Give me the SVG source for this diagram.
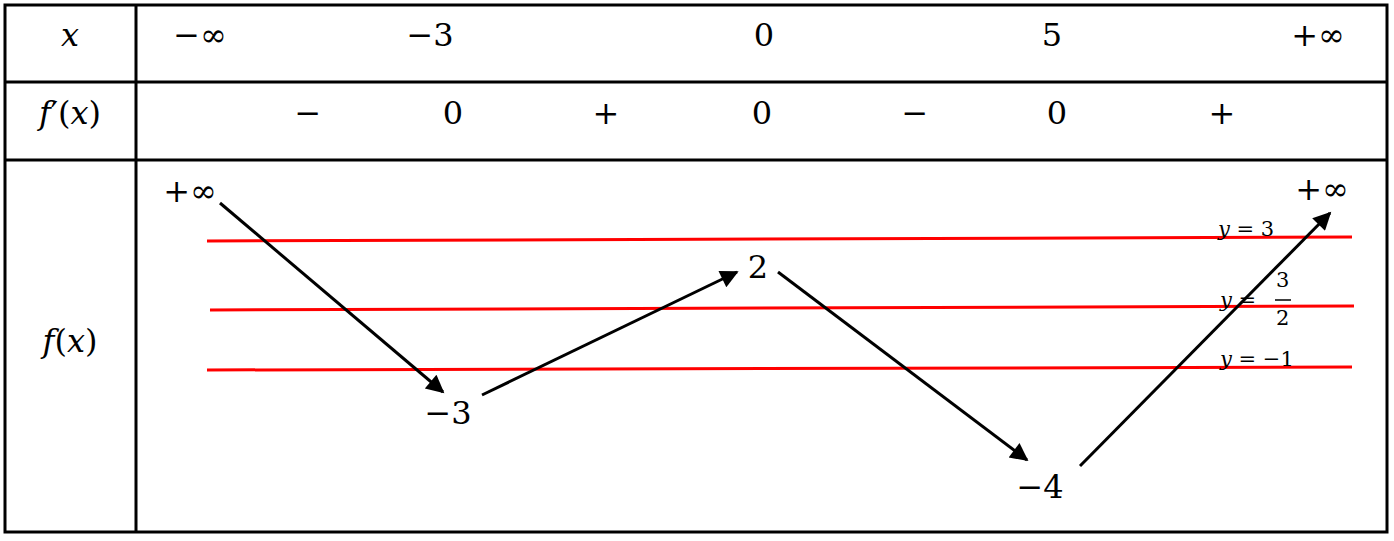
<svg xmlns="http://www.w3.org/2000/svg" width="1394" height="541" viewBox="0 0 1394 541">
<style>
.g{stroke:#000;stroke-width:3;fill:none}
.t{font-family:"DejaVu Serif","Liberation Serif",serif;font-size:32px;fill:#000;text-anchor:middle}
.i{font-style:italic}
.s{font-family:"DejaVu Serif","Liberation Serif",serif;font-size:21px;fill:#000}
.r{stroke:#f00;stroke-width:3}
.a{stroke:#000;stroke-width:3;marker-end:url(#ah)}
</style>
<defs><marker id="ah" viewBox="0 0 10 10" refX="9" refY="5" markerWidth="22" markerHeight="18" markerUnits="userSpaceOnUse" orient="auto"><path d="M0,0L10,5L0,10z" fill="#000"/></marker></defs>
<rect x="0" y="0" width="1394" height="541" fill="#fff"/>
<g id="table">
<rect class="g" x="5" y="5" width="1382" height="527"/>
<line class="g" x1="136" y1="5" x2="136" y2="532"/>
<line class="g" x1="5" y1="82" x2="1387" y2="82"/>
<line class="g" x1="5" y1="160" x2="1387" y2="160"/>
</g>
<g id="labels">
<text class="t i" x="70" y="46">x</text>
<text class="t" x="70" y="124"><tspan class="i">f</tspan>′(<tspan class="i">x</tspan>)</text>
<text class="t" x="70" y="352"><tspan class="i">f</tspan>(<tspan class="i">x</tspan>)</text>
<text class="t" x="200" y="46">−∞</text>
<text class="t" x="430" y="46">−3</text>
<text class="t" x="764" y="46">0</text>
<text class="t" x="1052" y="46">5</text>
<text class="t" x="1318" y="46">+∞</text>
<text class="t" x="308" y="124">−</text>
<text class="t" x="453" y="124">0</text>
<text class="t" x="606" y="124">+</text>
<text class="t" x="762" y="124">0</text>
<text class="t" x="915" y="124">−</text>
<text class="t" x="1057" y="124">0</text>
<text class="t" x="1222" y="124">+</text>
<text class="t" x="190" y="202">+∞</text>
<text class="t" x="448" y="424">−3</text>
<text class="t" x="758" y="278">2</text>
<text class="t" x="1040" y="498">−4</text>
<text class="t" x="1322" y="200">+∞</text>
</g>
<g id="lines">
<line class="r" x1="207" y1="241" x2="1352" y2="237"/>
<line class="r" x1="210" y1="310" x2="1354" y2="306"/>
<line class="r" x1="207" y1="370" x2="1352" y2="367"/>
<text class="s" x="1218" y="236"><tspan font-style="italic">y</tspan> = 3</text>
<text class="s" x="1220" y="307"><tspan font-style="italic">y</tspan> = </text>
<text class="s" x="1276" y="287">3</text>
<line x1="1275" y1="300" x2="1291" y2="300" stroke="#000" stroke-width="1.5"/>
<text class="s" x="1276" y="325">2</text>
<text class="s" x="1220" y="366"><tspan font-style="italic">y</tspan> = −1</text>
</g>
<g id="connectors">
<line class="a" x1="220" y1="203" x2="443" y2="392"/>
<line class="a" x1="482" y1="395" x2="737" y2="272"/>
<line class="a" x1="778" y1="272" x2="1027" y2="460"/>
<line class="a" x1="1080" y1="466" x2="1330" y2="213"/>
</g>
</svg>
